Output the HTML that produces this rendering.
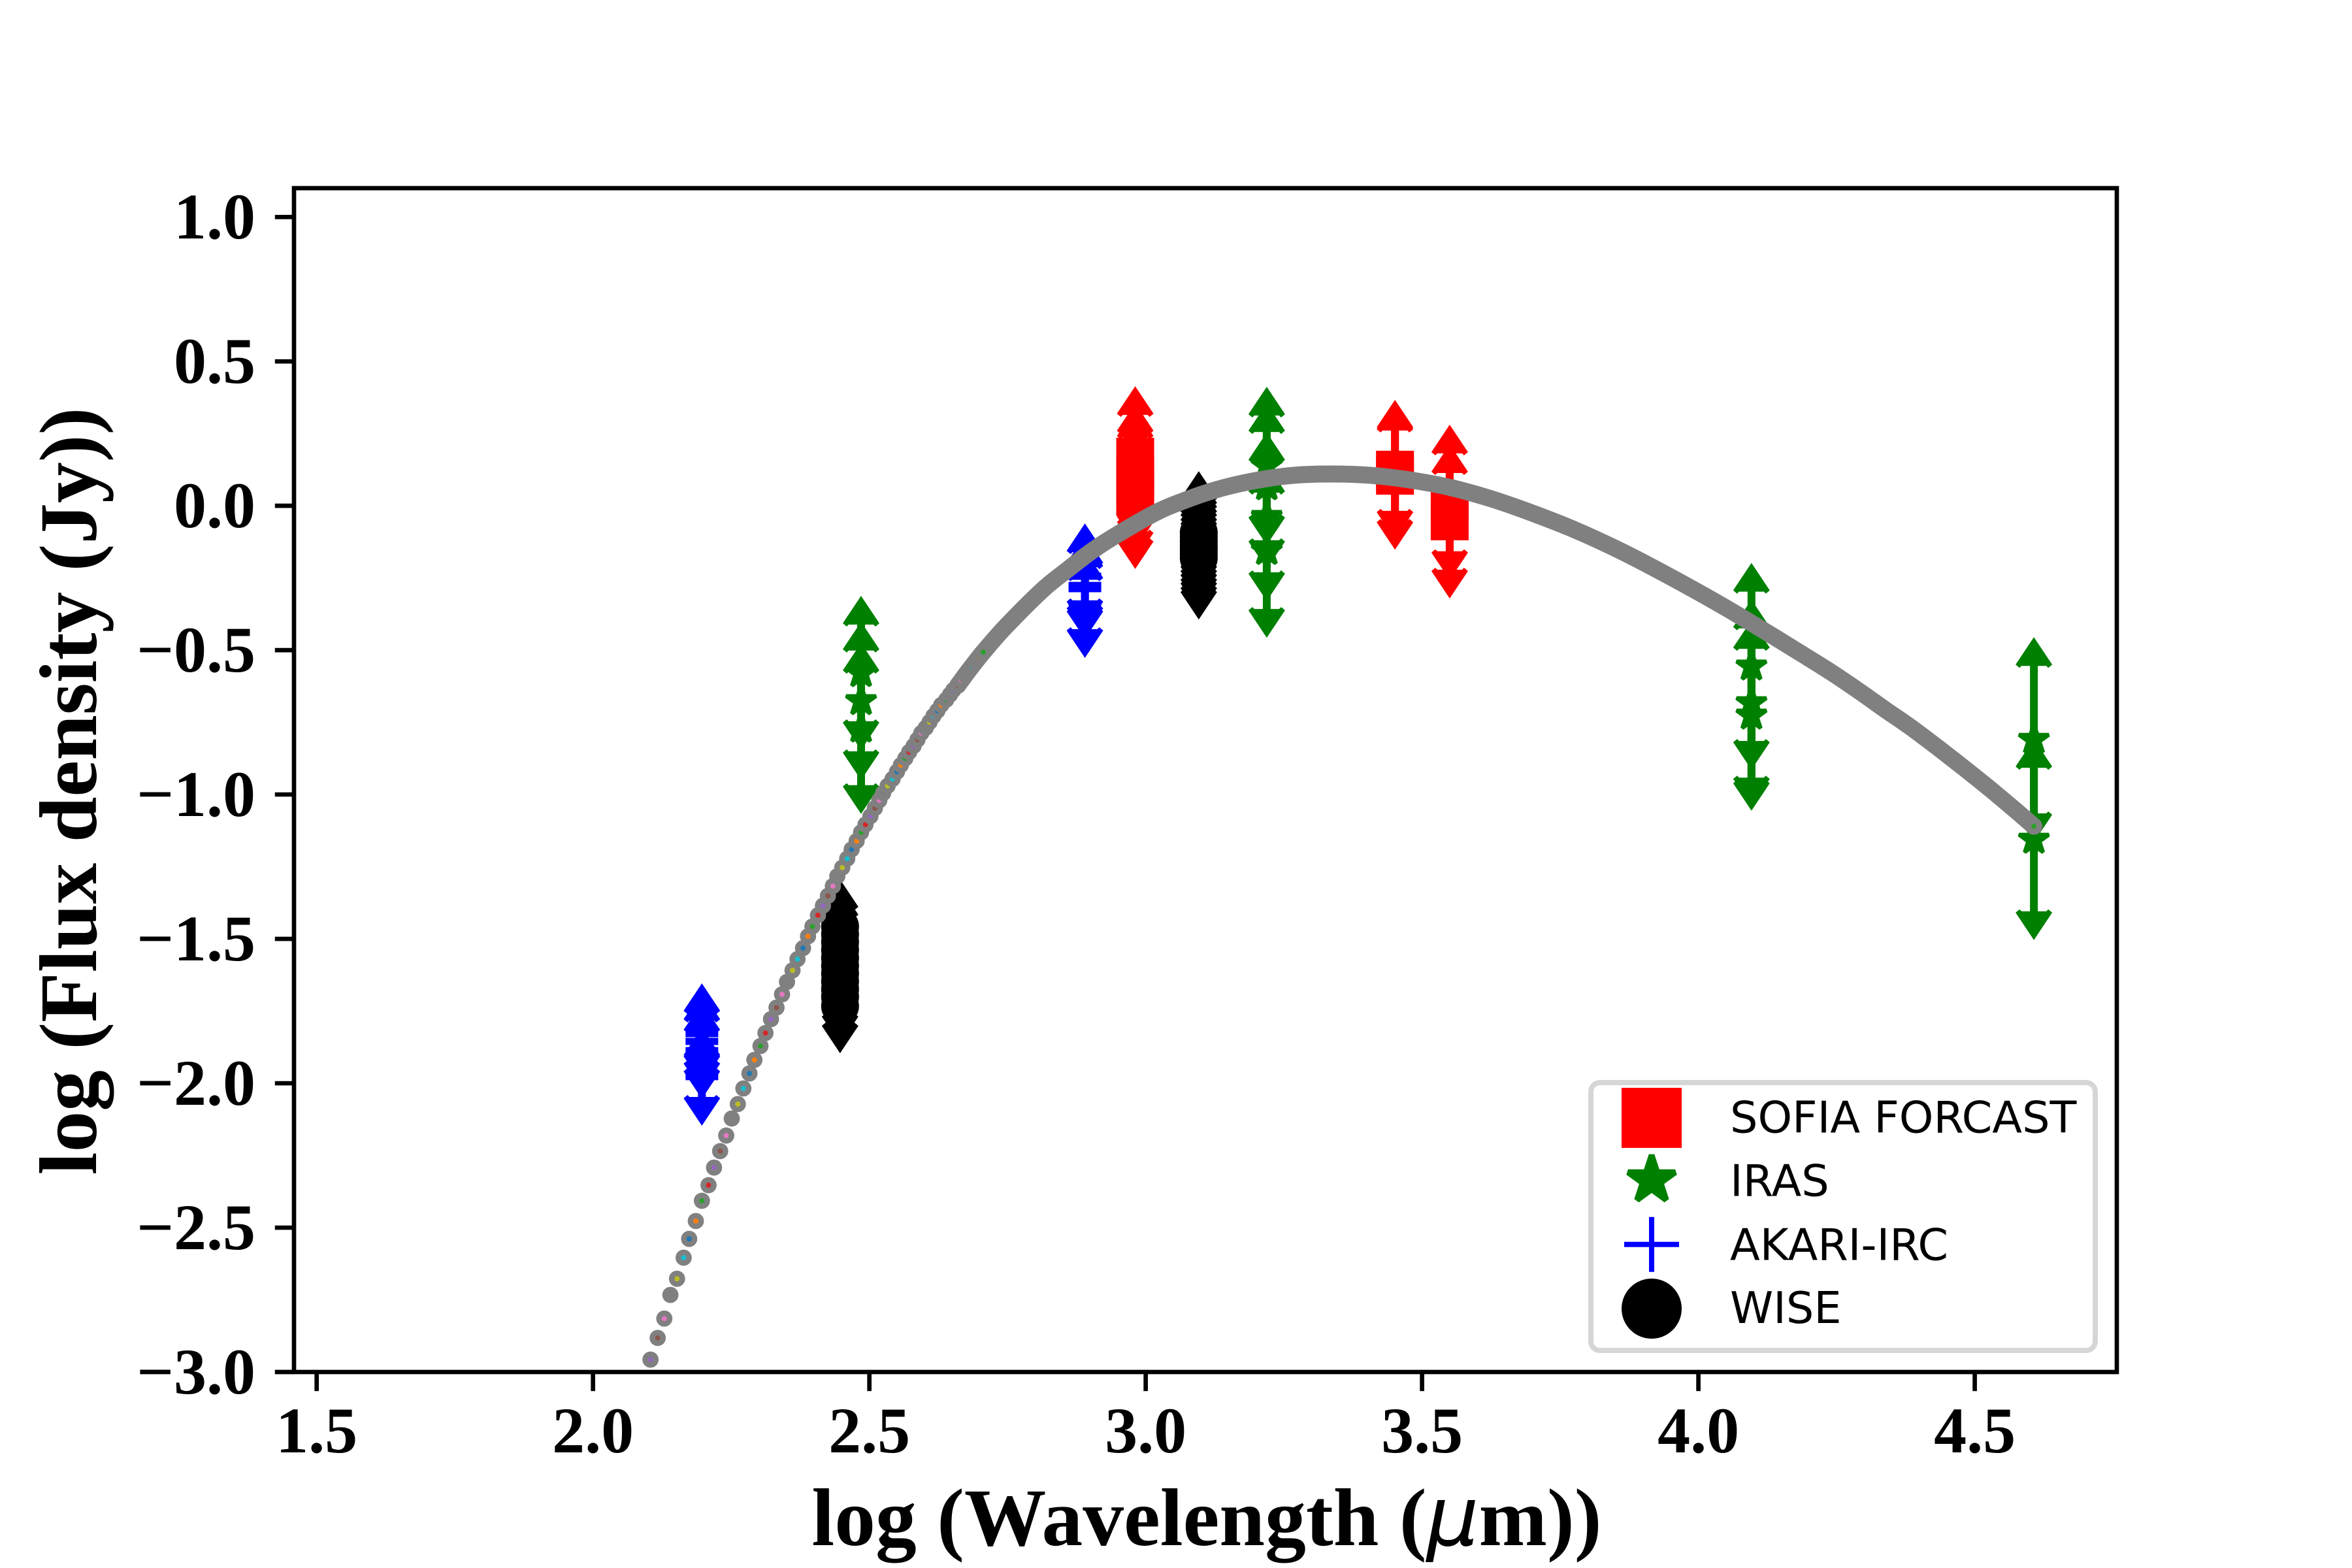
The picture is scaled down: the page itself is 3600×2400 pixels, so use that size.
<!DOCTYPE html>
<html lang="en">
<head>
<meta charset="utf-8">
<title>Spectral energy distribution</title>
<style>
html,body{margin:0;padding:0;background:#fff;}
svg{display:block;}
.tick-label{font-family:"Liberation Serif",serif;font-weight:bold;font-size:100px;fill:#000;}
.axis-title{font-family:"Liberation Serif",serif;font-weight:bold;font-size:125.5px;fill:#000;}
.legend-text{font-family:"DejaVu Sans",sans-serif;font-size:66.9px;fill:#000;}
</style>
</head>
<body>
<svg id="chart" xmlns="http://www.w3.org/2000/svg" width="3600" height="2400" viewBox="0 0 3600 2400">
  <rect x="0" y="0" width="3600" height="2400" fill="#fff"/>
  <defs><clipPath id="plot-clip"><rect x="450" y="288" width="2790" height="1812"/></clipPath></defs>
  <g id="plot" clip-path="url(#plot-clip)"></g>
  <g id="x-axis"></g>
  <g id="y-axis"></g>
  <rect x="450" y="288" width="2790" height="1812" fill="none" stroke="#000" stroke-width="6.67"/>
  <text class="axis-title" x="1847" y="2365" text-anchor="middle">log (Wavelength (<tspan font-family="'DejaVu Sans',sans-serif" font-style="italic" font-weight="normal">μ</tspan>m))</text>
  <text class="axis-title" transform="translate(147,1211) rotate(-90)" text-anchor="middle">log (Flux density (Jy))</text>
  <g>
    <rect x="2435" y="1657" width="772" height="410" rx="14" ry="14" fill="#fff" stroke="#d6d6d6" stroke-width="8"/>
    <rect x="2482" y="1665" width="92" height="92" fill="#ff0000"/>
    <text class="legend-text" x="2648" y="1733.5">SOFIA FORCAST</text>
    <polygon id="legend-star" fill="#008000" stroke="#008000" stroke-width="9" stroke-linejoin="bevel"/>
    <text class="legend-text" x="2648" y="1830.5">IRAS</text>
    <path d="M2486 1904.7H2570M2528 1862.7V1946.7" stroke="#0000ff" stroke-width="8" fill="none"/>
    <text class="legend-text" x="2648" y="1928.5">AKARI-IRC</text>
    <circle cx="2528" cy="2003" r="46" fill="#000"/>
    <text class="legend-text" x="2648" y="2025">WISE</text>
  </g>
</svg>
<script>
// Axis ticks
const xTicks = [1.5, 2.0, 2.5, 3.0, 3.5, 4.0, 4.5];
const xTickLabels = ["1.5", "2.0", "2.5", "3.0", "3.5", "4.0", "4.5"];
const yTicks = [1.0, 0.5, 0.0, -0.5, -1.0, -1.5, -2.0, -2.5, -3.0];
const yTickLabels = ["1.0", "0.5", "0.0", "\u22120.5", "\u22121.0", "\u22121.5", "\u22122.0", "\u22122.5", "\u22123.0"];

// SOFIA FORCAST
const sofiaWave = [2.981, 2.981, 2.981, 2.981, 2.981, 3.451, 3.451, 3.550, 3.550];
const sofiaFlux = [0.170, 0.111, 0.093, 0.055, 0.030, 0.125, 0.104, 0.012, -0.054];
const sofiaErr = [0.244, 0.244, 0.244, 0.244, 0.249, 0.242, 0.256, 0.269, 0.267];

// IRAS
const irasWave = [2.485, 2.485, 2.485, 3.219, 3.219, 3.219, 3.219, 4.096, 4.096, 4.096, 4.607, 4.607];
const irasFlux = [-0.579, -0.676, -0.771, 0.138, 0.068, -0.038, -0.156, -0.556, -0.683, -0.726, -0.810, -1.156];
const irasErr = [0.267, 0.274, 0.296, 0.274, 0.287, 0.292, 0.301, 0.358, 0.358, 0.330, 0.355, 0.348];

// AKARI-IRC
const akariWave = [2.197, 2.197, 2.197, 2.197, 2.890, 2.890, 2.890, 2.890];
const akariFlux = [-1.828, -1.855, -1.887, -1.977, -0.244, -0.276, -0.287, -0.341];
const akariErr = [0.174, 0.172, 0.167, 0.170, 0.183, 0.174, 0.174, 0.186];

// WISE
const wiseWave = [2.447, 2.447, 2.447, 2.447, 2.447, 2.447, 2.447, 2.447, 2.447, 2.447, 2.447, 3.096, 3.096, 3.096, 3.096, 3.096, 3.096, 3.096];
const wiseFlux = [-1.457, -1.484, -1.511, -1.538, -1.566, -1.593, -1.620, -1.647, -1.674, -1.701, -1.733, -0.093, -0.108, -0.122, -0.138, -0.151, -0.167, -0.181];
const wiseErr = [0.163, 0.163, 0.163, 0.163, 0.163, 0.163, 0.163, 0.163, 0.163, 0.163, 0.163, 0.213, 0.213, 0.213, 0.213, 0.213, 0.213, 0.213];

// Model samples drawn as individual dots (sparse short-wavelength end)
const modelDotWave = [2.104,2.117,2.129,2.140,2.152,2.164,2.174,2.186,2.197,2.209,2.219,2.230,2.241,2.251,2.262,2.272,2.283,2.292,2.303,2.312,2.322,2.332,2.342,2.351,2.361,2.370,2.380,2.389,2.397,2.407,2.416,2.425,2.434,2.442,2.451,2.460,2.468,2.477,2.485,2.493,2.502,2.510,2.518,2.525,2.533,2.542,2.550,2.557,2.565,2.572,2.580,2.587,2.594,2.602,2.609,2.616,2.623,2.630,2.639,2.646,2.652,2.660,2.666,2.673,2.680,2.686,2.693,2.699,2.706];
const modelDotFlux = [-2.957,-2.882,-2.815,-2.733,-2.677,-2.604,-2.539,-2.477,-2.407,-2.353,-2.292,-2.235,-2.181,-2.122,-2.072,-2.018,-1.966,-1.919,-1.871,-1.826,-1.778,-1.738,-1.692,-1.649,-1.609,-1.570,-1.532,-1.491,-1.457,-1.418,-1.385,-1.351,-1.317,-1.283,-1.253,-1.222,-1.190,-1.161,-1.131,-1.104,-1.075,-1.047,-1.020,-0.995,-0.970,-0.946,-0.921,-0.898,-0.875,-0.853,-0.832,-0.810,-0.787,-0.769,-0.749,-0.728,-0.710,-0.690,-0.672,-0.654,-0.638,-0.622,-0.604,-0.586,-0.570,-0.554,-0.538,-0.522,-0.507];

// Model samples merged into a continuous curve (long-wavelength end)
const modelLineWave = [2.660,2.680,2.693,2.706,2.745,2.813,2.858,2.903,2.949,3.017,3.067,3.130,3.198,3.265,3.334,3.409,3.486,3.554,3.627,3.689,3.771,3.862,3.952,4.043,4.119,4.193,4.242,4.290,4.338,4.387,4.434,4.483,4.531,4.580,4.607];
const modelLineFlux = [-0.622,-0.570,-0.538,-0.507,-0.422,-0.292,-0.222,-0.156,-0.099,-0.025,0.016,0.057,0.087,0.105,0.110,0.105,0.087,0.062,0.023,-0.018,-0.079,-0.159,-0.249,-0.346,-0.433,-0.520,-0.579,-0.641,-0.706,-0.771,-0.839,-0.912,-0.986,-1.065,-1.110];

// Matplotlib colour cycle order used by the dots, starting at the first visible dot
const dotColors = ["#9467bd","#8c564b","#e377c2","#7f7f7f","#bcbd22","#17becf","#1f77b4","#ff7f0e","#2ca02c","#d62728"];

const SVGNS = "http://www.w3.org/2000/svg";
const X_MIN = 1.459, X_MAX = 4.757, Y_MIN = -3.0, Y_MAX = 1.1;
const AX_L = 450, AX_R = 3240, AX_T = 288, AX_B = 2100;

function xScale(v) { return AX_L + (v - X_MIN) / (X_MAX - X_MIN) * (AX_R - AX_L); }
function yScale(v) { return AX_B - (v - Y_MIN) / (Y_MAX - Y_MIN) * (AX_B - AX_T); }

function make(tag, parent) {
  const el = document.createElementNS(SVGNS, tag);
  parent.appendChild(el);
  return el;
}

function starPoints(cx, cy, R) {
  const pts = [];
  for (let i = 0; i < 10; i++) {
    const r = i % 2 === 0 ? R : R * 0.381966;
    const a = -Math.PI / 2 + i * Math.PI / 5;
    pts.push((cx + r * Math.cos(a)).toFixed(1) + "," + (cy + r * Math.sin(a)).toFixed(1));
  }
  return pts.join(" ");
}

function arrowPoints(x, tipY, dir) {
  // dir = -1 points up (body below tip), dir = 1 points down (body above tip)
  const s = -dir;
  const shape = [[0,0],[28,42],[22,47],[19,44],[-19,44],[-22,47],[-28,42]];
  return shape.map(p => (x + p[0]) + "," + (tipY + s * p[1])).join(" ");
}

// Smooth path through the mapped curve samples (Catmull-Rom to cubic Bezier)
function smoothPath(xs, ys) {
  const p = xs.map((v, i) => [xScale(v), yScale(ys[i])]);
  let d = "M" + p[0][0].toFixed(1) + " " + p[0][1].toFixed(1);
  for (let i = 0; i < p.length - 1; i++) {
    const a = p[Math.max(i - 1, 0)], b = p[i], c = p[i + 1], e = p[Math.min(i + 2, p.length - 1)];
    const c1x = b[0] + (c[0] - a[0]) / 6, c1y = b[1] + (c[1] - a[1]) / 6;
    const c2x = c[0] - (e[0] - b[0]) / 6, c2y = c[1] - (e[1] - b[1]) / 6;
    d += "C" + c1x.toFixed(1) + " " + c1y.toFixed(1) + " " + c2x.toFixed(1) + " " + c2y.toFixed(1) + " " + c[0].toFixed(1) + " " + c[1].toFixed(1);
  }
  return d;
}

const plot = document.getElementById("plot");
const xAxis = document.getElementById("x-axis");
const yAxis = document.getElementById("y-axis");

document.getElementById("legend-star").setAttribute("points", starPoints(2528, 1806, 38));

// Ticks and labels
xTicks.forEach(function (t, i) {
  const px = xScale(t);
  const line = make("line", xAxis);
  
  
  line.setAttribute("x1", px);
  line.setAttribute("x2", px);
  line.setAttribute("y1", AX_B);
  line.setAttribute("y2", AX_B + 29.2);
  line.setAttribute("stroke", "#000");
  line.setAttribute("stroke-width", 6.67);
  const label = make("text", xAxis);
  
  
  label.setAttribute("class", "tick-label");
  label.setAttribute("x", px);
  label.setAttribute("y", 2223);
  label.setAttribute("text-anchor", "middle");
  label.textContent = xTickLabels[i];
});

yTicks.forEach(function (t, i) {
  const py = yScale(t);
  const line = make("line", yAxis);
  
  
  line.setAttribute("x1", AX_L - 29.2);
  line.setAttribute("x2", AX_L);
  line.setAttribute("y1", py);
  line.setAttribute("y2", py);
  line.setAttribute("stroke", "#000");
  line.setAttribute("stroke-width", 6.67);
  const label = make("text", yAxis);
  
  
  label.setAttribute("class", "tick-label");
  label.setAttribute("x", 391);
  label.setAttribute("y", py + 33);
  label.setAttribute("text-anchor", "end");
  label.textContent = yTickLabels[i];
});

function drawSeries(waves, fluxes, errs, color, drawMarker, seriesName) {
  const group = make("g", plot);
  
  
  waves.forEach(function (w, i) {
    const px = xScale(w);
    const py = yScale(fluxes[i]);
    const top = yScale(fluxes[i] + errs[i]);
    const bottom = yScale(fluxes[i] - errs[i]);

    const bar = make("line", group);
    
    
    bar.setAttribute("x1", px);
    bar.setAttribute("x2", px);
    bar.setAttribute("y1", top + 25);
    bar.setAttribute("y2", bottom - 25);
    bar.setAttribute("stroke", color);
    bar.setAttribute("stroke-width", 12);

    const up = make("polygon", group);
    
    
    up.setAttribute("points", arrowPoints(px, top, -1));
    up.setAttribute("fill", color);

    const down = make("polygon", group);
    
    
    down.setAttribute("points", arrowPoints(px, bottom, 1));
    down.setAttribute("fill", color);

    const m = drawMarker(group, px, py, color);
    
    
  });
}

function squareMarker(g, px, py, color) {
  const r = make("rect", g);
  r.setAttribute("x", px - 29);
  r.setAttribute("y", py - 29);
  r.setAttribute("width", 58);
  r.setAttribute("height", 58);
  r.setAttribute("fill", color);
  return r;
}
function starMarker(g, px, py, color) {
  const s = make("polygon", g);
  s.setAttribute("points", starPoints(px, py, 24));
  s.setAttribute("fill", color);
  s.setAttribute("stroke", color);
  s.setAttribute("stroke-width", 6);
  s.setAttribute("stroke-linejoin", "bevel");
  return s;
}
function plusMarker(g, px, py, color) {
  const p = make("path", g);
  p.setAttribute("d", "M" + (px - 25) + " " + py + "H" + (px + 25) + "M" + px + " " + (py - 25) + "V" + (py + 25));
  p.setAttribute("stroke", color);
  p.setAttribute("stroke-width", 11);
  p.setAttribute("fill", "none");
  return p;
}
function circleMarker(g, px, py, color) {
  const c = make("circle", g);
  c.setAttribute("cx", px);
  c.setAttribute("cy", py);
  c.setAttribute("r", 29);
  c.setAttribute("fill", color);
  return c;
}

drawSeries(sofiaWave, sofiaFlux, sofiaErr, "#ff0000", squareMarker, "sofia");
drawSeries(irasWave, irasFlux, irasErr, "#008000", starMarker, "iras");
drawSeries(akariWave, akariFlux, akariErr, "#0000ff", plusMarker, "akari");
drawSeries(wiseWave, wiseFlux, wiseErr, "#000000", circleMarker, "wise");

// Model: dots, each grey disc then coloured centre, so later discs partly cover earlier centres
const modelGroup = make("g", plot);



const modelLine = make("path", modelGroup);


modelLine.setAttribute("d", smoothPath(modelLineWave, modelLineFlux));
modelLine.setAttribute("fill", "none");
modelLine.setAttribute("stroke", "#808080");
modelLine.setAttribute("stroke-width", 26);
modelLine.setAttribute("stroke-linecap", "round");
modelLine.setAttribute("stroke-linejoin", "round");

modelDotWave.forEach(function (w, i) {
  const px = xScale(w);
  const py = yScale(modelDotFlux[i]);
  const disc = make("circle", modelGroup);
  
  
  disc.setAttribute("cx", px);
  disc.setAttribute("cy", py);
  disc.setAttribute("r", 12.4);
  disc.setAttribute("fill", "#808080");
  const dot = make("circle", modelGroup);
  
  
  dot.setAttribute("cx", px);
  dot.setAttribute("cy", py);
  dot.setAttribute("r", 4);
  dot.setAttribute("fill", dotColors[i % dotColors.length]);
});

const endDot = make("circle", modelGroup);


endDot.setAttribute("cx", xScale(modelLineWave[modelLineWave.length - 1]));
endDot.setAttribute("cy", yScale(modelLineFlux[modelLineFlux.length - 1]));
endDot.setAttribute("r", 4);
endDot.setAttribute("fill", "#2ca02c");
</script>
</body>
</html>
